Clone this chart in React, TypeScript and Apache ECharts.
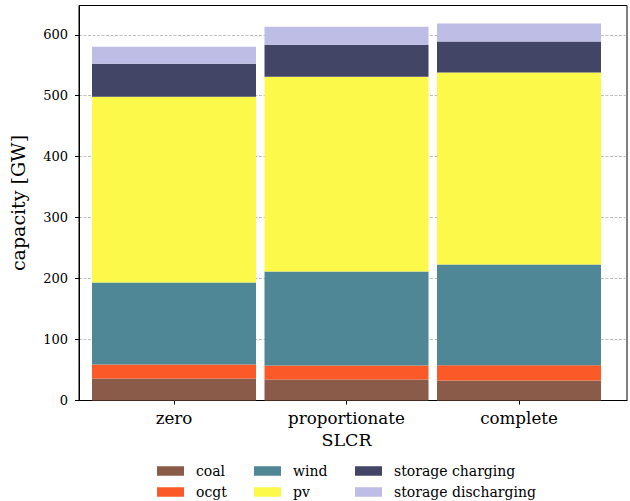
import React, { useEffect, useRef } from "react";
import * as echarts from "echarts";

const categories = ["zero", "proportionate", "complete"];
const seriesNames = ["coal", "ocgt", "wind", "pv", "storage charging", "storage discharging"];
const coal = [36, 34.5, 33];
const ocgt = [23, 23, 25];
const wind = [134.5, 154, 165];
const pv = [305, 319.5, 315];
const storageCharging = [54, 52.5, 51];
const storageDischarging = [28, 29.5, 29.5];
const yTicks = [0, 100, 200, 300, 400, 500, 600];
const colors = ["#8b5b49", "#fb5a28", "#508796", "#fdf94b", "#424566", "#bebde5"];

const FONT = "DejaVu Serif";
const Y_MAX = 648;

export default function App() {
  const ref = useRef<HTMLDivElement>(null);
  useEffect(() => {
    if (!ref.current) return;
    const chart = echarts.init(ref.current, undefined, { renderer: "svg" });
    const values = [coal, ocgt, wind, pv, storageCharging, storageDischarging];
    const series = seriesNames.map((name, i) => ({
      name,
      type: "bar",
      stack: "total",
      xAxisIndex: 1,
      yAxisIndex: 1,
      barWidth: 164,
      itemStyle: { color: colors[i] },
      emphasis: { disabled: true },
      data: values[i],
    }));
    const legendCols = [
      ["coal", "ocgt"],
      ["wind", "pv"],
      ["storage charging", "storage discharging"],
    ];
    const legendLefts = [157, 254, 355];
    chart.setOption({
      animation: false,
      color: colors,
      textStyle: { fontFamily: FONT },
      grid: [
        { left: 66.5, right: 3, top: 5.5, bottom: 100.5, show: true, borderColor: "#000", borderWidth: 1 },
        { left: 87.75, right: 24.75, top: 5.5, bottom: 100.5 },
      ],
      xAxis: [
        {
          gridIndex: 0,
          type: "value",
          min: 0,
          max: 1,
          axisLine: { show: true, onZero: false, lineStyle: { color: "#000", width: 1 } },
          axisTick: { show: false },
          axisLabel: { show: false },
          splitLine: { show: false },
        },
        {
          gridIndex: 1,
          type: "category",
          data: categories,
          name: "SLCR",
          nameLocation: "middle",
          nameGap: 30,
          nameTextStyle: { fontFamily: FONT, fontSize: 17.5, color: "#000" },
          axisLine: { show: false },
          axisTick: { show: true, alignWithLabel: true, length: 4, lineStyle: { color: "#000" } },
          axisLabel: { fontFamily: FONT, fontSize: 16.7, color: "#000", margin: 9 },
          splitLine: { show: false },
        },
      ],
      yAxis: [
        {
          gridIndex: 0,
          type: "value",
          min: 0,
          max: Y_MAX,
          interval: 100,
          name: "capacity [GW]",
          nameLocation: "middle",
          nameGap: 52,
          nameTextStyle: { fontFamily: FONT, fontSize: 19, color: "#000" },
          axisLine: { show: true, onZero: false, lineStyle: { color: "#000", width: 1 } },
          axisTick: { show: true, customValues: yTicks, length: 4, lineStyle: { color: "#000" } },
          axisLabel: { customValues: yTicks, fontFamily: FONT, fontSize: 13, color: "#000", margin: 11 },
          splitLine: { show: true, lineStyle: { color: "#b0b0b0", width: 0.8, type: [3, 1.5] } },
        },
        {
          gridIndex: 1,
          type: "value",
          min: 0,
          max: Y_MAX,
          show: false,
          splitLine: { show: false },
        },
      ],
      legend: legendCols.map((col, i) => ({
        data: col,
        orient: "vertical",
        left: legendLefts[i],
        top: 463.5,
        padding: 0,
        itemWidth: 27,
        itemHeight: 9.5,
        itemGap: 6,
        icon: "rect",
        selectedMode: false,
        textStyle: { fontFamily: FONT, fontSize: 14, color: "#000", lineHeight: 15, padding: [0, 0, 0, 7] },
      })),
      series,
    });
    return () => chart.dispose();
  }, []);
  return <div ref={ref} style={{ width: 630, height: 501, position: "absolute", left: 0, top: 0 }} />;
}
